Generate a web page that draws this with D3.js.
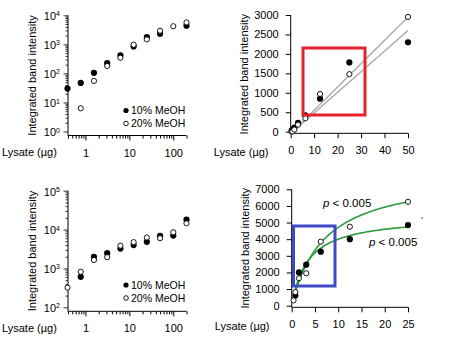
<!DOCTYPE html>
<html>
<head>
<meta charset="utf-8">
<script src="https://cdn.jsdelivr.net/npm/d3@7"></script>
<style>
  body { margin: 0; background: #fff; }
  svg { font-family: "Liberation Sans", Arial, sans-serif; }
</style>
</head>
<body>
<div id="chart"></div>
<script>
// lượng lysate (µg), pha loãng 2 lần
const lysate = [0.39, 0.78, 1.56, 3.125, 6.25, 12.5, 25, 50, 100, 200];

// hàng trên
const topMeOH10 = [30, 47, 105, 225, 420, 850, 1780, 2300, null, 4400];
const topMeOH20 = [0.8, 6.3, 55, 180, 345, 970, 1480, 2950, 4200, 5700];

// hàng dưới
const botMeOH10 = [null, 610, 2000, 2470, 3250, 4000, 4850, 6900, 7000, 18000];
const botMeOH20 = [320, 820, 1650, 1950, 3850, 4750, 6250, 6000, 8500, 14500];

// đường fit
const linFit10 = { slope: 53, intercept: -50, from: 1, to: 50 };
const linFit20 = { slope: 60, intercept: -50, from: 1, to: 50 };
const hypFit10 = { vmax: 5400, km: 3.5, from: 0.78, to: 25 };
const hypFit20 = { vmax: 8000, km: 7, from: 0.78, to: 25 };

const logXTicks = [1, 10, 100];
const legendLabels = ["10% MeOH", "20% MeOH"];
const pLabel = "< 0.005";

const svg = d3.select("#chart").append("svg")
  .attr("width", 453)
  .attr("height", 353);

function pts(ys) {
  return lysate.map((x, i) => ({ x, y: ys[i] })).filter(d => d.y != null);
}

function drawPoints(g, x, y, data, filled, yMin) {
  g.selectAll(null)
    .data(data.filter(d => d.y >= yMin && x.domain()[1] >= d.x))
    .enter().append("circle")
      .attr("cx", d => x(d.x))
      .attr("cy", d => y(d.y))
      .attr("r", filled ? 3.1 : 2.6)
      .attr("fill", filled ? "#000" : "#fff")
      .attr("stroke", "#000")
      .attr("stroke-width", filled ? 0 : 0.9);
}

function frame(g, x, y, axisY) {
  const [x0, x1] = x.range();
  const yTop = d3.min(y.range());
  g.append("line").attr("x1", x0).attr("x2", x0).attr("y1", yTop).attr("y2", axisY)
    .attr("stroke", "#000");
  g.append("line").attr("x1", x0).attr("x2", x1).attr("y1", axisY).attr("y2", axisY)
    .attr("stroke", "#000");
}

function titles(g, titleX, innerMid, labelY) {
  g.append("text")
    .attr("transform", `translate(${titleX},${innerMid}) rotate(-90)`)
    .attr("text-anchor", "middle")
    .attr("dy", "0.35em")
    .style("font-size", "11px")
    .text("Integrated band intensity");
  g.append("text")
    .attr("x", titleX - 30)
    .attr("y", labelY)
    .attr("dy", "0.35em")
    .style("font-size", "11px")
    .text("Lysate (µg)");
}

function logPanel(o) {
  const g = svg.append("g");
  const x = d3.scaleLog().domain([0.4, 200]).range([o.x0, o.x0 + 118.5]);
  const y = d3.scaleLog().domain(o.yDomain).range([o.yBottom, o.yTop]);
  const axisY = o.yBottom + 4;

  // trục x
  const minorX = [];
  [0.1, 1, 10, 100].forEach(b => d3.range(2, 10).forEach(k => {
    const v = b * k; if (v >= 0.4 && v <= 200) minorX.push(v);
  }));
  const gx = g.append("g").attr("transform", `translate(0,${axisY})`);
  gx.call(d3.axisBottom(x).tickValues(minorX).tickSize(3).tickFormat(""));
  gx.append("g").call(d3.axisBottom(x).tickValues(logXTicks).tickSize(5).tickFormat(d3.format("d")));
  gx.selectAll(".domain").remove();
  gx.selectAll("text").style("font-size", "11px").attr("dy", "1.2em").attr("fill", "#000");

  // trục y
  const [e0, e1] = o.yDomain.map(Math.log10);
  const majorY = d3.range(e0, e1 + 1).map(e => Math.pow(10, e));
  const minorY = [];
  majorY.slice(0, -1).forEach(b => d3.range(2, 10).forEach(k => minorY.push(b * k)));
  const gy = g.append("g").attr("transform", `translate(${o.x0},0)`);
  gy.call(d3.axisLeft(y).tickValues(minorY).tickSize(2.5).tickFormat(""));
  const gyMaj = gy.append("g").call(d3.axisLeft(y).tickValues(majorY).tickSize(4.5).tickFormat(""));
  gy.selectAll(".domain").remove();
  gy.selectAll("line").attr("stroke-width", 0.8);
  gyMaj.selectAll(".tick").append("text")
    .attr("x", -8)
    .attr("dy", "0.4em")
    .attr("text-anchor", "end")
    .attr("fill", "#000")
    .style("font-size", "11px")
    .call(t => {
      t.append("tspan").text("10");
      t.append("tspan").attr("dy", "-0.55em").style("font-size", "7px")
        .text(d => Math.round(Math.log10(d)));
    });

  frame(g, x, y, axisY);
  titles(g, o.x0 - 36, (o.yTop + axisY) / 2, axisY + 16.5);

  drawPoints(g, x, y, pts(o.s10), true, o.yDomain[0]);
  drawPoints(g, x, y, pts(o.s20), false, o.yDomain[0]);

  // chú giải
  legendLabels.forEach((lab, i) => {
    const ly = o.legendY + i * 13;
    g.append("circle").attr("cx", 126).attr("cy", ly).attr("r", i ? 2.3 : 2.6)
      .attr("fill", i ? "#fff" : "#000").attr("stroke", "#000").attr("stroke-width", i ? 0.9 : 0);
    g.append("text").attr("x", 131).attr("y", ly).attr("dy", "0.36em")
      .style("font-size", "10.5px").text(lab);
  });
}

function linPanel(o) {
  const g = svg.append("g");
  const x = d3.scaleLinear().domain(o.xDomain).range([o.x0, 408]);
  const y = d3.scaleLinear().domain(o.yDomain).range([o.yBottom, o.yTop]);
  const axisY = o.yBottom + 1.6;

  const gx = g.append("g").attr("transform", `translate(0,${axisY})`);
  gx.call(d3.axisBottom(x).ticks(5).tickSize(5).tickSizeOuter(0).tickFormat(d3.format("d")));
  const gy = g.append("g").attr("transform", `translate(${o.x0},0)`);
  gy.call(d3.axisLeft(y).tickValues(d3.range(0, o.yDomain[1] + 1, o.yStep))
    .tickSize(5).tickSizeOuter(0).tickFormat(d3.format("d")));
  g.selectAll(".domain").remove();
  g.selectAll(".tick text").style("font-size", "11px").attr("fill", "#000");
  gx.selectAll(".tick text").attr("dy", "1.2em");
  gy.selectAll(".tick text").attr("x", -12);

  frame(g, x, y, axisY);
  titles(g, o.x0 - 47, (o.yTop + axisY) / 2, axisY + 19);

  return { g, x, y };
}

// ===== Hàng trên =====
logPanel({ x0: 68, yDomain: [1, 1e4], yTop: 15.3, yBottom: 131.5, s10: topMeOH10, s20: topMeOH20, legendY: 110.5 });

const tr = linPanel({ x0: 290.7, xDomain: [0, 50], yDomain: [0, 3000], yStep: 500, yTop: 15, yBottom: 131.7 });
[linFit10, linFit20].forEach(f => {
  tr.g.append("line")
    .attr("x1", tr.x(f.from)).attr("y1", tr.y(f.slope * f.from + f.intercept))
    .attr("x2", tr.x(f.to)).attr("y2", tr.y(f.slope * f.to + f.intercept))
    .attr("stroke", "#a8a8a8").attr("stroke-width", 1.3);
});
drawPoints(tr.g, tr.x, tr.y, pts(topMeOH10), true, -Infinity);
drawPoints(tr.g, tr.x, tr.y, pts(topMeOH20), false, -Infinity);
tr.g.append("rect")
  .attr("x", 303).attr("y", 48).attr("width", 62).attr("height", 67)
  .attr("fill", "none").attr("stroke", "#e3222a").attr("stroke-width", 3);

// ===== Hàng dưới =====
logPanel({ x0: 68, yDomain: [100, 1e5], yTop: 190.7, yBottom: 307.3, s10: botMeOH10, s20: botMeOH20, legendY: 285 });

const br = linPanel({ x0: 291.7, xDomain: [0, 25], yDomain: [0, 7000], yStep: 1000, yTop: 189.3, yBottom: 305.7 });
const curve = d3.line().x(d => br.x(d[0])).y(d => br.y(d[1])).curve(d3.curveBasis);
[hypFit10, hypFit20].forEach(f => {
  const xs = d3.range(f.from, f.to + 0.001, 0.25);
  br.g.append("path")
    .attr("d", curve(xs.map(v => [v, f.vmax * v / (f.km + v)])))
    .attr("fill", "none").attr("stroke", "#2f9a3c").attr("stroke-width", 1.6);
});
drawPoints(br.g, br.x, br.y, pts(botMeOH10), true, -Infinity);
drawPoints(br.g, br.x, br.y, pts(botMeOH20), false, -Infinity);
[[323, 203], [369, 242]].forEach(([px, py]) => {
  const t = br.g.append("text").attr("x", px).attr("y", py).attr("dy", "0.35em")
    .style("font-size", "11.5px");
  t.append("tspan").style("font-style", "italic").text("p");
  t.append("tspan").text(" " + pLabel);
});
br.g.append("circle").attr("cx", 422).attr("cy", 218).attr("r", 0.8).attr("fill", "#333");
br.g.append("rect")
  .attr("x", 293.5).attr("y", 226).attr("width", 41.5).attr("height", 60)
  .attr("fill", "none").attr("stroke", "#3f49c8").attr("stroke-width", 3);
</script>
</body>
</html>
